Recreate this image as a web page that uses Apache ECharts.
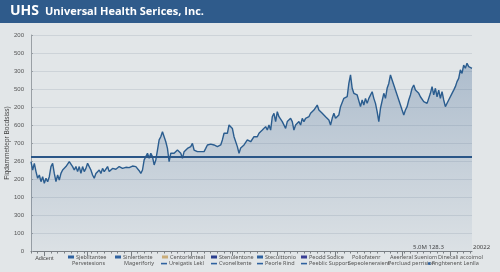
<!DOCTYPE html>
<html>
<head>
<meta charset="utf-8">
<script src="https://cdn.jsdelivr.net/npm/echarts@6/dist/echarts.min.js"></script>
<style>
  html, body { margin: 0; padding: 0; background: #e2e6e8; }
  #chart { width: 500px; height: 272px; }
</style>
</head>
<body>
<div id="chart"></div>
<script>
// y tick labels, bottom to top (as printed on the picture)
var yTickLabels = ['0', '100', '300', '100', '200', '260', '700', '600', '200', '500', '300', '500', '200'];

// price-like series, in axis units (0..12)
var seriesValues = [
  4.96, 4.5, 4.87, 4.41, 4.04, 4.22, 3.85, 4.13, 3.76, 4.04, 3.85, 4.13, 4.69, 4.87, 4.31, 3.85, 4.22, 3.94, 4.31, 4.5,
  4.59, 4.69, 4.78, 4.96, 5.02, 4.69, 4.5, 4.69, 4.41, 4.69, 4.31, 4.69, 4.41, 4.59, 4.87, 4.96, 4.5, 4.22, 4.04, 4.31,
  4.22, 4.5, 4.31, 4.59, 4.41, 4.5, 4.69, 4.41, 4.5, 4.59, 4.5, 4.54, 4.59, 4.69, 4.78, 4.59, 4.59, 4.65, 4.59, 4.63,
  4.69, 4.72, 4.78, 4.69, 4.59, 4.46, 4.31, 4.5, 5.06, 5.24, 5.43, 5.15, 5.43, 5.24, 4.78, 5.06, 5.61, 6.17, 6.35, 6.63,
  6.35, 6.07, 5.7, 4.96, 5.43, 5.52, 5.43, 5.52, 5.61, 5.52, 5.43, 5.15, 5.52, 5.43, 5.7, 5.61, 5.8, 5.98, 5.61, 5.7,
  5.52, 5.61, 5.52, 5.43, 5.52, 5.7, 5.89, 5.98, 5.94, 5.98, 5.89, 5.98, 5.8, 5.89, 5.89, 6.17, 6.54, 6.63, 6.54, 7.0,
  6.91, 6.81, 6.35, 6.26, 5.8, 5.43, 5.72, 5.61, 5.89, 5.8, 6.17, 6.26, 6.07, 6.17, 6.35, 6.26, 6.35, 6.54, 6.44, 6.72,
  6.63, 6.91, 6.72, 7.0, 6.72, 7.46, 7.65, 7.19, 7.74, 7.46, 7.56, 7.19, 7.28, 6.81, 7.19, 7.09, 7.37, 7.19, 6.72, 7.0,
  6.91, 7.19, 7.0, 7.37, 7.19, 7.37, 7.28, 7.46, 7.65, 7.74, 7.83, 7.93, 8.11, 7.83, 7.83, 7.65, 7.74, 7.46, 7.56, 7.28,
  7.0, 7.37, 7.65, 7.37, 7.28, 7.56, 8.02, 8.11, 8.48, 8.39, 8.57, 9.31, 9.78, 9.04, 8.76, 8.85, 8.67, 8.76, 8.02, 8.39,
  8.11, 8.48, 8.2, 8.48, 8.57, 8.85, 8.48, 8.2, 7.74, 7.19, 7.93, 7.83, 8.76, 8.48, 9.04, 9.31, 9.78, 9.5, 9.22, 8.94,
  8.67, 8.39, 8.11, 7.83, 7.56, 7.83, 8.02, 8.39, 8.67, 9.04, 9.22, 8.94, 8.85, 8.76, 8.57, 8.48, 8.3, 8.39, 8.2, 8.3,
  8.76, 9.13, 8.67, 9.04, 8.57, 8.94, 8.48, 8.85, 8.39, 8.02, 8.11, 8.39, 8.48, 8.76, 8.94, 9.13, 9.41, 9.59, 10.06, 9.87,
  10.33, 10.15, 10.43, 10.24, 10.33, 10.15
];
var refLevel = 5.25;

// x axis: category index, few labels, major tick positions
var categories = seriesValues.map(function (v, i) { return String(i); });
var xLabelIdx = [8];
var xLabelText = ['Adicent'];
var majorTickIdx = [8, 34, 60, 96, 121, 148, 183, 223, 252];

// pseudo-legend entries (icon: box, line, dot, none)
var legendNames = ['Sjebiltantee', 'Siniertlente', 'Centorlenteal', 'Stenulentone', 'Stecuittonio', 'Peodd Sodice', 'Poliofatenr', 'Aeeneral Sueniom', 'Dinecali accoimol',
  'Pervetesions', 'Mageriforiy', 'Ureigatis Lekl', 'Cvonelltente', 'Peorle Rind', 'Peeblic Support', 'Sepeoleneraient', 'Percluad perrision', 'Fnghtenent Lenlla'];
var legendIcons = ['box', 'box', 'box', 'box', 'box', 'box', 'none', 'none', 'none',
  'none', 'none', 'line', 'line', 'line', 'line', 'none', 'none', 'dot'];
var legendColors = ['#2f62a0', '#2f62a0', '#c9ad7a', '#2b3f8f', '#2f62a0', '#3a3f95', '', '', '',
  '', '', '#2f62a0', '#2f62a0', '#2f62a0', '#2f62a0', '', '', '#2f62a0'];

var chart = echarts.init(document.getElementById('chart'));

var legendX = [76, 123, 170, 219, 265, 309, 352, 390, 438,
  72, 124, 169, 219, 265, 309, 348, 388, 432];
var legendRow = [0, 0, 0, 0, 0, 0, 0, 0, 0, 1, 1, 1, 1, 1, 1, 1, 1, 1];

var graphics = [
  { type: 'rect', left: 0, top: 0, shape: { width: 500, height: 23 }, style: { fill: '#2f5b8b' }, z: 0 },
  { type: 'text', left: 10, top: 4, style: { text: 'UHS', fill: '#ffffff', font: 'bold 14px "Open Sans", sans-serif' } },
  { type: 'text', left: 45, top: 6, style: { text: 'Universal Health Serices, Inc.', fill: '#ffffff', font: 'bold 11px "Open Sans", sans-serif' } },
  { type: 'text', left: 413, top: 244, style: { text: '5.0M 128.3', fill: '#444', font: '6px "Noto Sans", sans-serif' } },
  { type: 'text', left: 473, top: 244, style: { text: '20022', fill: '#444', font: '6px "Noto Sans", sans-serif' } }
];
legendNames.forEach(function (name, i) {
  var y = legendRow[i] === 0 ? 257 : 263.5;
  var x = legendX[i];
  if (legendIcons[i] === 'box') {
    graphics.push({ type: 'rect', shape: { x: x - 8, y: y - 1.5, width: 6, height: 3 }, style: { fill: legendColors[i] } });
  } else if (legendIcons[i] === 'line') {
    graphics.push({ type: 'rect', shape: { x: x - 8, y: y - 0.7, width: 6, height: 1.6 }, style: { fill: legendColors[i] } });
  } else if (legendIcons[i] === 'dot') {
    graphics.push({ type: 'rect', shape: { x: x - 4, y: y - 1.2, width: 2.5, height: 2.5 }, style: { fill: legendColors[i] } });
  }
  graphics.push({ type: 'text', x: x, y: y, style: { text: name, fill: '#555', font: '5.5px "Noto Sans", sans-serif', textVerticalAlign: 'middle' } });
});

chart.setOption({
  backgroundColor: '#e2e6e8',
  animation: false,
  grid: { left: 31, right: 28, top: 35, bottom: 21, containLabel: false, outerBoundsMode: 'none' },
  xAxis: [
    {
      type: 'category',
      data: categories,
      boundaryGap: false,
      axisLine: { lineStyle: { color: '#7a7f84', width: 1 } },
      axisTick: {
        interval: function (i) { return i % 4 === 0; },
        length: 2.5,
        lineStyle: { color: '#7a7f84' }
      },
      axisLabel: {
        interval: function (i) { return xLabelIdx.indexOf(i) >= 0; },
        formatter: function (v, i) { var k = xLabelIdx.indexOf(i); return k >= 0 ? xLabelText[k] : ''; },
        fontSize: 5.5,
        color: '#444',
        margin: 4
      },
      splitLine: { show: false }
    },
    {
      type: 'category',
      data: categories,
      boundaryGap: false,
      position: 'bottom',
      axisLine: { show: false },
      axisTick: {
        interval: function (i) { return majorTickIdx.indexOf(i) >= 0; },
        length: 5,
        lineStyle: { color: '#7a7f84' }
      },
      axisLabel: { show: false },
      splitLine: { show: false }
    }
  ],
  yAxis: {
    type: 'value',
    min: 0,
    max: 12,
    interval: 1,
    name: 'Fiqdammetiepr Bocdsiss)',
    nameLocation: 'middle',
    nameGap: 20,
    nameMoveOverlap: false,
    nameTextStyle: { fontSize: 6.5, color: '#444' },
    axisLine: { show: true, lineStyle: { color: '#9aa0a5' } },
    axisTick: { show: true, length: 2, inside: true, lineStyle: { color: '#9aa0a5' } },
    axisLabel: {
      formatter: function (v) { return yTickLabels[v]; },
      fontSize: 6,
      color: '#555',
      margin: 7
    },
    splitLine: { lineStyle: { color: '#cdd3d8', width: 1 } }
  },
  series: [
    {
      name: 'UHS',
      type: 'line',
      data: seriesValues,
      showSymbol: false,
      symbol: 'none',
      lineStyle: { color: '#2b5d8f', width: 1.4 },
      areaStyle: {
        color: new echarts.graphic.LinearGradient(0, 0, 0, 1, [
          { offset: 0, color: 'rgba(58,98,145,0.45)' },
          { offset: 1, color: 'rgba(58,98,145,0.06)' }
        ])
      },
      markLine: {
        silent: true,
        symbol: 'none',
        label: { show: false },
        lineStyle: { color: '#2a5687', width: 1.8, type: 'solid' },
        data: [{ yAxis: refLevel }]
      }
    }
  ],
  graphic: graphics
});
</script>
</body>
</html>
